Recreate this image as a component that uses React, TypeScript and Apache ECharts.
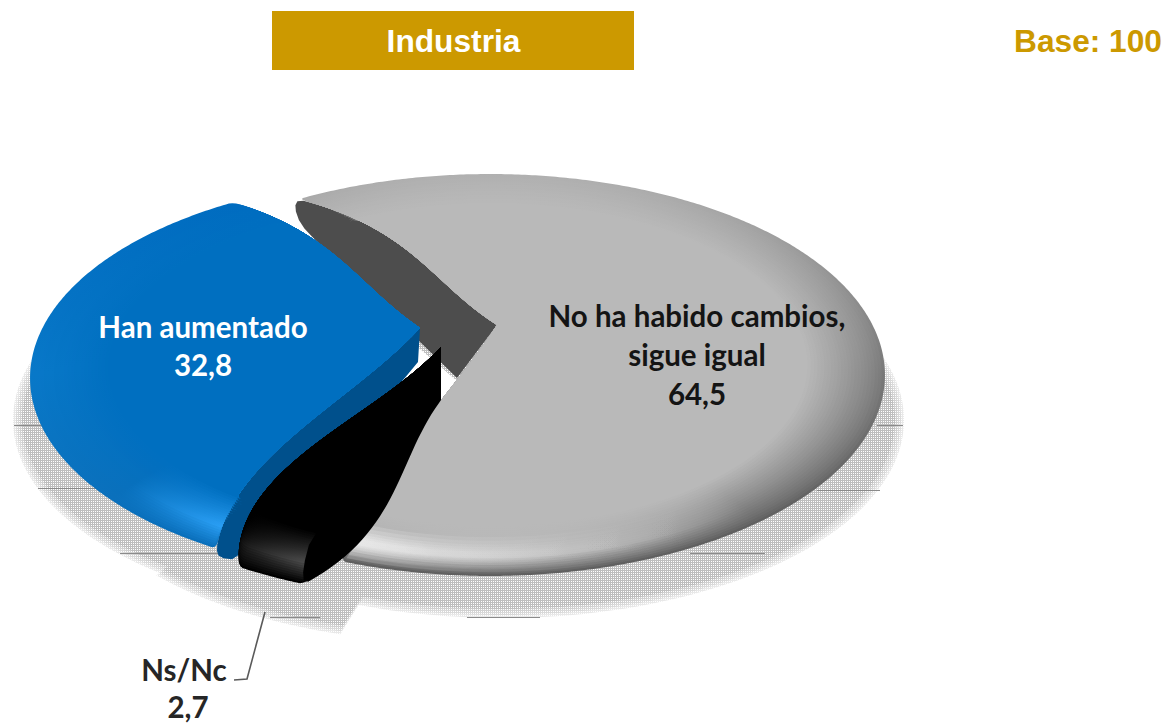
import React, { useEffect, useRef } from "react";
import * as echarts from "echarts";

// ---- data
const categories = ["Han aumentado", "No ha habido cambios,\nsigue igual", "Ns/Nc"];
const values = [32.8, 64.5, 2.7];
const total = values.reduce((a, b) => a + b, 0);
const titleText = "Industria";
const baseText = "Base: 100";
const drawOrder = [1, 0, 2];
const START_ANGLE = 121.9; // ellipse-parameter degrees, clockwise from 3 o'clock

// ---- layout & style
const RX = 395;
const RY = 201;
const BANDS = 24;
const BEVEL = 0.2;
type Look = {
  cx: number; cy: number; ax: number; ay: number;
  bowStart: number; bowEnd: number; trim: number[];
  stops: string[]; inner: string; peak: string; peakAt: number; ease: number; wall?: string;
  shadow: number[]; shadowExtra: number[];
};
const looks: Look[] = [
  { cx: 425, cy: 378, ax: -5, ay: -50, bowStart: 7, bowEnd: 5, trim: [0, 1],
    stops: ["#006cc0", "#0878c8", "#0a70bc"], inner: "#006fc0", peak: "#2ba0f6", peakAt: 0.4, ease: 1.4, wall: "#00508c",
    shadow: [415, 420], shadowExtra: [0, 0] },
  { cx: 490, cy: 375, ax: 7, ay: -50, bowStart: 6, bowEnd: 3, trim: [1, 0],
    stops: ["#b0b0b0", "#787878", "#606060"], inner: "#b9b9b9", peak: "#b9b9b9", peakAt: 0.35, ease: 0.85, wall: "#4d4d4d",
    shadow: [502, 420], shadowExtra: [0, 0] },
  { cx: 453, cy: 398, ax: -12, ay: -51, bowStart: -6, bowEnd: 10, trim: [0, 1],
    stops: ["#000000", "#000000", "#000000"], inner: "#000000", peak: "#555555", peakAt: 0.4, ease: 1, 
    shadow: [459, 445], shadowExtra: [-5, 16] },
];
const labelPos = [
  { xs: [203, 203], y: 326, lh: 38, color: "#ffffff" },
  { xs: [697, 697, 697], y: 315, lh: 39, color: "#141414" },
  { xs: [184, 188], y: 669, lh: 37, color: "#262626" },
];
const shadowRules = [
  [14, 425, 42], [38, 488, 96], [120, 553, 222], [877, 425, 903],
  [817, 490, 880], [690, 553, 765], [270, 617, 320], [467, 617, 540],
];
const glowWidths = [0.012, 0.02, 0.03, 0.04, 0.055, 0.07];
let shadowPattern: any = "#cdcdcd";

const hex = (c: string) => [1, 3, 5].map((i) => parseInt(c.slice(i, i + 2), 16));
const mix = (a: string, b: string, t: number) => {
  const A = hex(a), B = hex(b);
  return "rgb(" + A.map((v, i) => Math.round(v + (B[i] - v) * t)).join(",") + ")";
};

const sliceAngles = (idx: number) => {
  let a = START_ANGLE;
  for (let i = 0; i < idx; i++) a += (values[i] / total) * 360;
  return [a + looks[idx].trim[0], a + (values[idx] / total) * 360 + looks[idx].trim[1]];
};

const pt = (l: Look, deg: number, r: number, bow: number, ax = l.ax, ay = l.ay): number[] => {
  const th = ((deg + bow * 4 * r * (1 - r)) * Math.PI) / 180;
  return [
    l.cx + r * RX * Math.cos(th) + (1 - r) * ax,
    l.cy + r * RY * Math.sin(th) + (1 - r) * ay,
  ];
};
const edge = (l: Look, deg: number, rMax: number, bow: number, ax = l.ax, ay = l.ay) => {
  const out: number[][] = [];
  for (let k = 0; k <= 16; k++) out.push(pt(l, deg, (rMax * k) / 16, bow, ax, ay));
  return out;
};
const rim = (l: Look, a0: number, a1: number, r: number) => {
  const out: number[][] = [];
  const n = Math.max(2, Math.ceil(Math.abs(a1 - a0) / 2));
  for (let k = 0; k <= n; k++) out.push(pt(l, a0 + ((a1 - a0) * k) / n, r, 0));
  return out;
};
// corner cutting on an open path: the end points (the apex) stay sharp
const soften = (p: number[][], rounds = 2) => {
  let cur = p;
  for (let n = 0; n < rounds; n++) {
    const next: number[][] = [cur[0]];
    for (let i = 0; i < cur.length - 1; i++) {
      const [a, b] = [cur[i], cur[i + 1]];
      next.push([a[0] * 0.75 + b[0] * 0.25, a[1] * 0.75 + b[1] * 0.25]);
      next.push([a[0] * 0.25 + b[0] * 0.75, a[1] * 0.25 + b[1] * 0.75]);
    }
    next.push(cur[cur.length - 1]);
    cur = next;
  }
  return cur;
};
const outline = (l: Look, a0: number, a1: number, r: number) =>
  soften([
    ...edge(l, a0, r, l.bowStart),
    ...rim(l, a0, a1, r).slice(1, -1),
    ...edge(l, a1, r, l.bowEnd).reverse(),
  ]);

const bandFill = (l: Look, t: number) => {
  const e = Math.pow(t, l.ease);
  const peak = t < l.peakAt
    ? mix(l.stops[2], l.peak, t / l.peakAt)
    : mix(l.peak, l.inner, (t - l.peakAt) / (1 - l.peakAt));
  return new echarts.graphic.LinearGradient(0, 0, 0, 1, [
    { offset: 0, color: mix(l.stops[0], l.inner, e) },
    { offset: 0.5, color: mix(l.stops[1], l.inner, e) },
    { offset: 0.86, color: mix(l.stops[2], l.inner, e) },
    { offset: 1, color: peak },
  ]);
};

const renderShadow = (_p: any, api: any) => {
  const idx = api.value(0);
  const [a0, a1] = sliceAngles(idx);
  const l = looks[idx];
  const children: any[] = [];
  const from = a0 + l.shadowExtra[0];
  const to = a1 + l.shadowExtra[1];
  [9, 6, 3, 0].forEach((grow) => {
    const pts: number[][] = [[l.shadow[0], l.shadow[1]]];
    const n = Math.ceil((to - from) / 2);
    for (let k = 0; k <= n; k++) {
      const th = ((from + ((to - from) * k) / n) * Math.PI) / 180;
      pts.push([l.shadow[0] + (393 + grow) * Math.cos(th), l.shadow[1] + (189 + grow) * Math.sin(th)]);
    }
    children.push({
      type: "polygon",
      shape: { points: pts },
      style: { fill: shadowPattern, opacity: grow === 0 ? 1 : 0.35 },
    });
  });
  return { type: "group", children };
};

const renderSlice = (_p: any, api: any) => {
  const idx = api.value(0);
  const [a0, a1] = sliceAngles(idx);
  const l = looks[idx];
  const children: any[] = [];

  if (idx === 1) {
    // inner wall of the big slice, seen behind the blue one
    const upper = edge(l, a0, 1, l.bowStart);
    const tip = upper[upper.length - 1];
    const ap = upper[0];
    children.push({
      type: "polygon",
      shape: {
        points: soften([
          ...upper,
          [tip[0] - 4, tip[1] + 8],
          [tip[0] + 2, tip[1] + 25],
          [tip[0] + 18, tip[1] + 42],
          [ap[0] - 40, ap[1] + 53],
        ], 1),
      },
      style: { fill: l.wall },
    });
  }
  if (idx === 0) {
    // wall under the lower edge of the blue slice
    const lower = edge(l, a0, 1, l.bowStart);
    const end = lower[lower.length - 1];
    const ap = lower[0];
    children.push({
      type: "polygon",
      shape: {
        points: soften([
          ...lower,
          [end[0] + 3, end[1] + 9],
          [end[0] + 20, end[1] + 11],
          [end[0] + 80, end[1] - 40],
          [ap[0] - 2, ap[1] + 34],
        ], 1),
      },
      style: { fill: l.wall },
    });
  }

  for (let b = 0; b < BANDS; b++) {
    const t = b / (BANDS - 1);
    const r = 1 - BEVEL * t;
    children.push({
      type: "polygon",
      shape: { points: outline(l, a0, a1, r) },
      style: { fill: bandFill(l, t) },
    });
  }

  if (idx === 1) {
    // soft highlight along the lower-left part of the rim
    const glowFrom = a1 - 55;
    const glowTo = a1 - 0.5;
    glowWidths.forEach((w) => {
      children.push({
        type: "polygon",
        shape: {
          points: [...rim(l, glowFrom, glowTo, 0.915 + w), ...rim(l, glowFrom, glowTo, 0.915 - w).reverse()],
        },
        style: {
          fill: new echarts.graphic.LinearGradient(1, 0, 0, 0, [
            { offset: 0, color: "rgba(255,255,255,0)" },
            { offset: 0.35, color: "rgba(255,255,255,0.03)" },
            { offset: 0.75, color: "rgba(255,255,255,0.1)" },
            { offset: 1, color: "rgba(255,255,255,0.2)" },
          ]),
        },
      });
    });
  }

  if (idx === 2) {
    // extruded side of the small slice, drawn over the bevel
    const side = edge(l, a0, 1, l.bowStart, l.ax, l.ay + 53);
    const tipEnd = side[side.length - 1];
    children.push({
      type: "polygon",
      shape: {
        points: soften([
          ...side,
          [tipEnd[0] - 1, tipEnd[1] - 16],
          [tipEnd[0] + 7, tipEnd[1] - 47],
          pt(l, a0, 0, 0),
        ], 1),
      },
      style: { fill: "#000000" },
    });
  }

  const lp = labelPos[idx];
  const lines = [...categories[idx].split("\n"), values[idx].toFixed(1).replace(".", ",")];
  lines.forEach((line, i) => {
    children.push({
      type: "text",
      z2: 50,
      style: {
        text: line,
        x: lp.xs[i],
        y: lp.y + i * lp.lh,
        fill: lp.color,
        font: 'bold 29.5px Lato, "Open Sans", sans-serif',
        align: "center",
        verticalAlign: "middle",
      },
    });
  });
  return { type: "group", children };
};

export default function App() {
  const ref = useRef<HTMLDivElement>(null);
  useEffect(() => {
    document.body.style.margin = "0";
    const cv = document.createElement("canvas");
    cv.width = 2;
    cv.height = 2;
    const g = cv.getContext("2d")!;
    g.fillStyle = "#bebebe";
    g.fillRect(0, 0, 2, 1);
    g.fillRect(0, 1, 1, 1);
    shadowPattern = { image: cv, repeat: "repeat" };

    const chart = echarts.init(ref.current!, undefined, { renderer: "svg" });
    const rows = drawOrder.map((i) => ({ name: categories[i], value: [i, values[i]] }));
    chart.setOption({
      animation: false,
      backgroundColor: "#ffffff",
      graphic: [
        { type: "rect", z: 10, shape: { x: 272, y: 11, width: 362, height: 59 }, style: { fill: "#cc9900" } },
        { type: "text", z: 11, style: { text: titleText, x: 453.5, y: 41, fill: "#ffffff", font: 'bold 31.7px "Liberation Sans", Arial, sans-serif', align: "center", verticalAlign: "middle" } },
        { type: "text", z: 11, style: { text: baseText, x: 1162, y: 41, fill: "#cc9900", font: 'bold 31.7px "Liberation Sans", Arial, sans-serif', align: "right", verticalAlign: "middle" } },
        { type: "polyline", z: 11, shape: { points: [[265, 612], [247, 679], [234, 680]] }, style: { stroke: "#5a5a5a", lineWidth: 1.6, fill: "none" } },
        ...shadowRules.map(([x0, y, x1]) => ({
          type: "line", z: 1, shape: { x1: x0, y1: y + 0.5, x2: x1, y2: y + 0.5 }, style: { stroke: "#8a8a8a", lineWidth: 1 },
        })),
      ],
      series: [
        { type: "custom", coordinateSystem: "none", silent: true, z: 0, renderItem: renderShadow, data: rows },
        { type: "custom", coordinateSystem: "none", silent: true, z: 2, renderItem: renderSlice, data: rows },
      ],
    });
    return () => chart.dispose();
  }, []);
  return <div ref={ref} style={{ position: "absolute", left: 0, top: 0, width: 1169, height: 723 }} />;
}
